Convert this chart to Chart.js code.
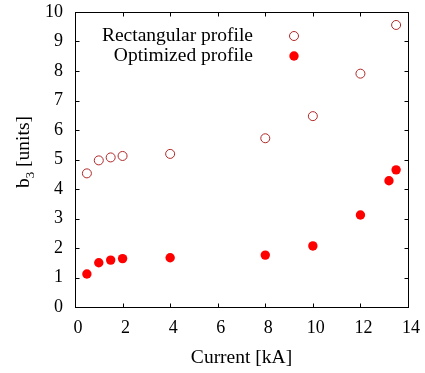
<!DOCTYPE html>
<html><head><meta charset="utf-8">
<script src="https://cdn.jsdelivr.net/npm/chart.js@4"></script>
<style>html,body{margin:0;padding:0;background:#fff}</style>
</head><body>
<canvas id="c" width="425" height="373"></canvas>
<script>
const rectCurrent = [0.5, 1.0, 1.5, 2.0, 4.0, 8.0, 10.0, 12.0, 13.5];
const rectB3      = [4.53, 4.97, 5.07, 5.12, 5.19, 5.72, 6.47, 7.91, 9.56];
const optCurrent  = [0.5, 1.0, 1.5, 2.0, 4.0, 8.0, 10.0, 12.0, 13.2, 13.5];
const optB3       = [1.12, 1.50, 1.59, 1.64, 1.67, 1.76, 2.07, 3.12, 4.28, 4.65];
const xTickValues = [0, 2, 4, 6, 8, 10, 12, 14];
const yTickValues = [0, 1, 2, 3, 4, 5, 6, 7, 8, 9, 10];
const seriesNames = ['Rectangular profile', 'Optimized profile'];
const xTitle = 'Current [kA]';
const yTitleMain = 'b', yTitleSub = '3', yTitleRest = ' [units]';

const FONT = "'Liberation Serif', 'Times New Roman', serif";
const TXT = 19.5;
const openColor = '#b02828';
const fillColor = '#ff0000';

const toPts = (xs, ys) => xs.map((x, i) => ({x: x, y: ys[i]}));

const frame = {
  id: 'frame',
  afterDraw(chart) {
    const ctx = chart.ctx, a = chart.chartArea;
    const xs = chart.scales.x, ys = chart.scales.y;
    ctx.save();
    ctx.strokeStyle = '#000';
    ctx.lineWidth = 1;
    const L = Math.round(a.left) + 0.5, R = Math.round(a.right) + 0.5;
    const T = Math.round(a.top) + 0.5, B = Math.round(a.bottom) + 0.5;
    ctx.strokeRect(L, T, R - L, B - T);
    const tl = 4;
    ctx.beginPath();
    xTickValues.forEach(v => {
      const p = Math.round(xs.getPixelForValue(v)) + 0.5;
      ctx.moveTo(p, B); ctx.lineTo(p, B - tl);
      ctx.moveTo(p, T); ctx.lineTo(p, T + tl);
    });
    yTickValues.forEach(v => {
      const p = Math.round(ys.getPixelForValue(v)) + 0.5;
      ctx.moveTo(L, p); ctx.lineTo(L + tl, p);
      ctx.moveTo(R, p); ctx.lineTo(R - tl, p);
    });
    ctx.stroke();

    // legend
    ctx.font = TXT + 'px ' + FONT;
    ctx.fillStyle = '#000';
    ctx.textAlign = 'right';
    ctx.textBaseline = 'middle';
    const legX = 253, sampX = 294;
    const legY = [36, 56];
    ctx.fillText(seriesNames[0], legX, legY[0]);
    ctx.fillText(seriesNames[1], legX, legY[1]);
    ctx.beginPath();
    ctx.arc(sampX, legY[0], 4.5, 0, Math.PI * 2);
    ctx.strokeStyle = openColor;
    ctx.stroke();
    ctx.beginPath();
    ctx.arc(sampX, legY[1], 4.7, 0, Math.PI * 2);
    ctx.fillStyle = fillColor;
    ctx.fill();

    // x title
    ctx.fillStyle = '#000';
    ctx.textAlign = 'center';
    ctx.textBaseline = 'alphabetic';
    ctx.font = TXT + 'px ' + FONT;
    ctx.fillText(xTitle, (a.left + a.right) / 2, 363);

    // y title (rotated)
    ctx.save();
    ctx.translate(29, 152);
    ctx.rotate(-Math.PI / 2);
    ctx.font = TXT + 'px ' + FONT;
    const w1 = ctx.measureText(yTitleMain).width;
    const w3 = ctx.measureText(yTitleRest).width;
    ctx.font = '13px ' + FONT;
    const w2 = ctx.measureText(yTitleSub).width;
    const total = w1 + w2 + w3;
    let x0 = -total / 2;
    ctx.textAlign = 'left';
    ctx.font = TXT + 'px ' + FONT;
    ctx.fillText(yTitleMain, x0, 0);
    ctx.font = '13px ' + FONT;
    ctx.fillText(yTitleSub, x0 + w1, 5);
    ctx.font = TXT + 'px ' + FONT;
    ctx.fillText(yTitleRest, x0 + w1 + w2, 0);
    ctx.restore();
    ctx.restore();
  }
};

new Chart(document.getElementById('c'), {
  type: 'scatter',
  data: {
    datasets: [
      {
        label: seriesNames[0],
        data: toPts(rectCurrent, rectB3),
        pointStyle: 'circle',
        pointRadius: 4.5,
        pointBorderWidth: 1,
        borderColor: openColor,
        backgroundColor: 'rgba(255,255,255,0)',
        pointHoverRadius: 4.5
      },
      {
        label: seriesNames[1],
        data: toPts(optCurrent, optB3),
        pointStyle: 'circle',
        pointRadius: 4.7,
        pointBorderWidth: 0,
        borderColor: fillColor,
        backgroundColor: fillColor,
        pointHoverRadius: 4.7
      }
    ]
  },
  options: {
    responsive: false,
    animation: false,
    events: [],
    layout: {padding: {top: 12, right: 17, left: 0, bottom: 0}},
    plugins: {legend: {display: false}, tooltip: {enabled: false}},
    scales: {
      x: {
        type: 'linear', min: 0, max: 14,
        afterFit(s) { s.height = 66; s.paddingLeft = 0; s.paddingRight = 0; },
        afterBuildTicks(s) { s.ticks = xTickValues.map(v => ({value: v})); },
        grid: {display: true, drawOnChartArea: false, drawTicks: false, color: 'rgba(0,0,0,0)'},
        border: {display: false},
        ticks: {color: '#000', padding: 10, labelOffset: 3, maxRotation: 0, autoSkip: false, font: {family: FONT, size: 18}}
      },
      y: {
        type: 'linear', min: 0, max: 10,
        afterFit(s) { s.width = 75; s.paddingTop = 0; s.paddingBottom = 0; },
        afterBuildTicks(s) { s.ticks = yTickValues.map(v => ({value: v})); },
        grid: {display: true, drawOnChartArea: false, drawTicks: false, color: 'rgba(0,0,0,0)'},
        border: {display: false},
        ticks: {color: '#000', padding: 12, autoSkip: false, font: {family: FONT, size: 18}}
      }
    }
  },
  plugins: [frame]
});
</script>
</body></html>
